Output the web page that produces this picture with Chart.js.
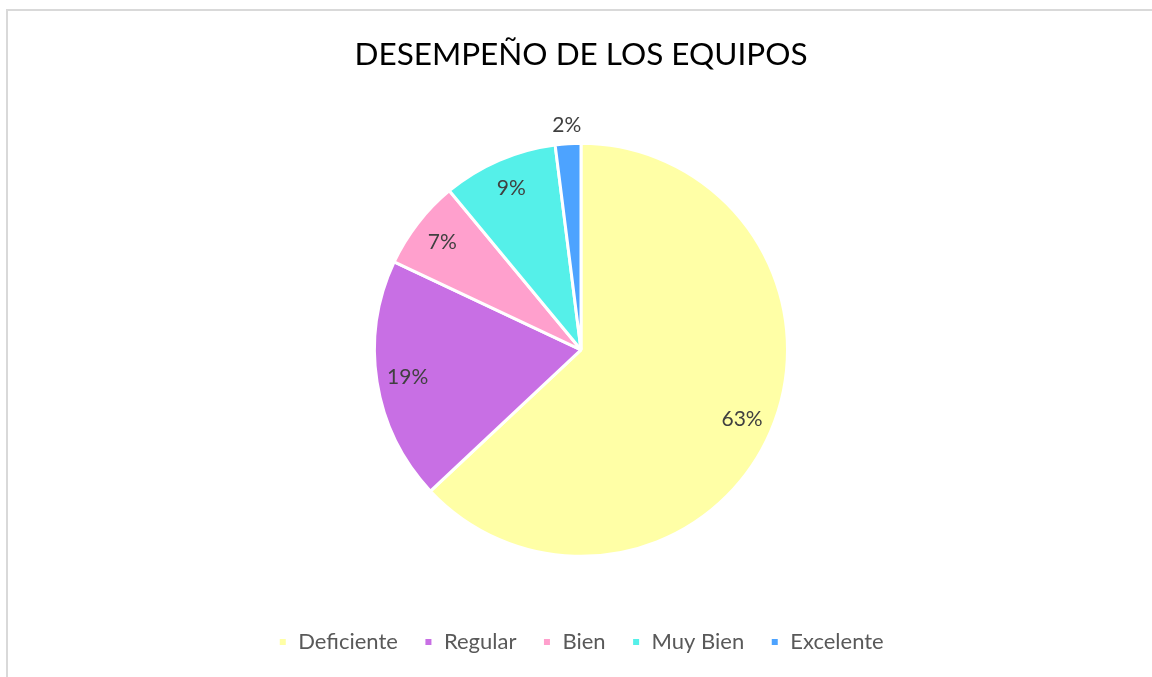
<!DOCTYPE html>
<html>
<head>
<meta charset="utf-8">
<script src="https://cdn.jsdelivr.net/npm/chart.js@4.4.1/dist/chart.umd.min.js"></script>
<style>
  html, body { margin: 0; padding: 0; background: #fff; overflow: hidden; }
  #marco { position: absolute; left: 6px; top: 9px; width: 1200px; height: 700px; border: 2px solid #d9d9d9; }
  #wrap { position: absolute; left: 0; top: 0; width: 1152px; height: 677px; }
</style>
</head>
<body>
<div id="marco"></div>
<div id="wrap"><canvas id="grafico"></canvas></div>
<script>
// datos del grafico
const categorias = ['Deficiente', 'Regular', 'Bien', 'Muy Bien', 'Excelente'];
const porcentajes = [63, 19, 7, 9, 2];
const colores = ['#ffffa6', '#c86fe4', '#ffa0cd', '#55f0e9', '#4da3ff'];

// etiquetas de porcentaje sobre cada sector
const etiquetas = {
    id: 'etiquetas',
    afterDatasetsDraw(chart) {
        const ctx = chart.ctx;
        const meta = chart.getDatasetMeta(0);
        ctx.save();
        ctx.font = '21px Lato';
        ctx.fillStyle = '#404040';
        ctx.textAlign = 'center';
        ctx.textBaseline = 'middle';
        meta.data.forEach((arc, i) => {
            const p = arc.getProps(['x', 'y', 'startAngle', 'endAngle', 'outerRadius'], true);
            const mid = (p.startAngle + p.endAngle) / 2;
            const r = porcentajes[i] < 4 ? p.outerRadius + 19 : p.outerRadius * 0.85;
            ctx.fillText(porcentajes[i] + '%', p.x + Math.cos(mid) * r, p.y + Math.sin(mid) * r);
        });
        ctx.restore();
    }
};

document.addEventListener('DOMContentLoaded', function () {
    const ctx = document.getElementById('grafico').getContext('2d');
    new Chart(ctx, {
        type: 'pie',
        data: {
            labels: categorias,
            datasets: [{
                data: porcentajes,
                backgroundColor: colores,
                borderColor: '#ffffff',
                borderWidth: 3
            }]
        },
        options: {
            responsive: true,
            maintainAspectRatio: false,
            animation: false,
            layout: { padding: { left: 10, right: 0, top: 0, bottom: 14 } },
            plugins: {
                title: {
                    display: true,
                    text: 'DESEMPEÑO DE LOS EQUIPOS',
                    color: '#000000',
                    font: { family: 'Lato', size: 31.5, weight: 'normal' },
                    padding: { top: 36, bottom: 68 }
                },
                legend: {
                    position: 'bottom',
                    title: { display: true, text: '', font: { size: 1 }, padding: 23 },
                    labels: {
                        color: '#595959',
                        font: { family: 'Lato', size: 22 },
                        boxWidth: 9,
                        boxHeight: 9,
                        padding: 26
                    }
                },
                tooltip: { enabled: false }
            }
        },
        plugins: [etiquetas]
    });
});
</script>
</body>
</html>
